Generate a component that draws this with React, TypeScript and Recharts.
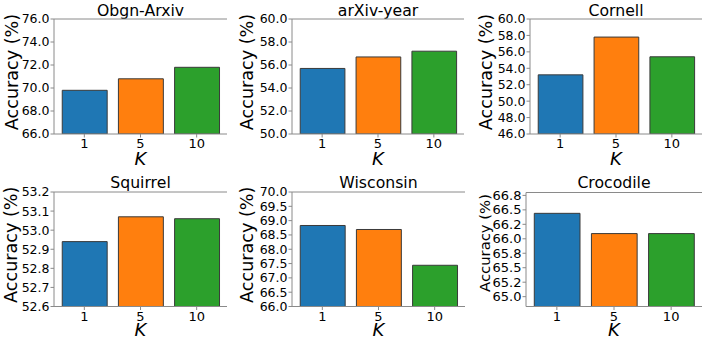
import { BarChart, Bar, Cell, XAxis, YAxis, CartesianGrid } from 'recharts'

const K_LABELS = ['1', '5', '10']
const BAR_COLORS = ['#1f77b4', '#ff7f0e', '#2ca02c']

const obgnArxivAcc = [69.8, 70.8, 71.8]
const arxivYearAcc = [55.7, 56.7, 57.2]
const cornellAcc = [53.2, 57.8, 55.4]
const squirrelAcc = [52.94, 53.07, 53.06]
const wisconsinAcc = [68.83, 68.69, 67.44]
const crocodileAcc = [66.44, 66.09, 66.09]

const obgnArxivTicks = [66, 68, 70, 72, 74, 76]
const arxivYearTicks = [50, 52, 54, 56, 58, 60]
const cornellTicks = [46, 48, 50, 52, 54, 56, 58, 60]
const squirrelTicks = [52.6, 52.7, 52.8, 52.9, 53.0, 53.1, 53.2]
const wisconsinTicks = [66, 66.5, 67, 67.5, 68, 68.5, 69, 69.5, 70]
const crocodileTicks = [65, 65.25, 65.5, 65.75, 66, 66.25, 66.5, 66.75]
const crocodileTickLabels = ['65.0', '65.2', '65.5', '65.8', '66.0', '66.2', '66.5', '66.8']

const FONT = '"DejaVu Sans", sans-serif'
const SPINE = '#8a8a8a'

type PanelProps = {
  title: string
  values: number[]
  domain: [number, number]
  ticks: number[]
  tickLabels?: string[]
  left: number
  top: number
  width: number
  height: number
  plotL: number
  plotT: number
  plotR: number
  plotB: number
  titleBase: number
  labelX: number
  labelShift: number
  labelSize: number
  yTickSize: number
  kOffset: number
}

function YLabel({ lx, ly, fs }: { lx: number; ly: number; fs: number }) {
  return (
    <text
      x={lx}
      y={ly}
      transform={`rotate(-90 ${lx} ${ly})`}
      textAnchor="middle"
      fontSize={fs}
      fontFamily={FONT}
      fill="#000"
    >
      Accuracy (%)
    </text>
  )
}

function Panel(p: PanelProps) {
  const data = K_LABELS.map((k, i) => ({ k, acc: p.values[i] }))
  const plotW = p.plotR - p.plotL
  const unit = plotW / 3.08
  const pad = (plotW - 3 * unit) / 2
  const fmt = (v: number) =>
    p.tickLabels ? p.tickLabels[p.ticks.indexOf(v)] : v.toFixed(1)
  const midY = (p.plotT + p.plotB) / 2 - p.top + p.labelShift
  const titleSize = 15.7

  return (
    <>
      <div
        style={{
          position: 'absolute',
          left: p.plotL,
          width: plotW,
          top: p.titleBase - 0.846 * titleSize,
          fontSize: titleSize,
          lineHeight: `${titleSize}px`,
          textAlign: 'center',
          color: '#000',
          whiteSpace: 'nowrap'
        }}
      >
        {p.title}
      </div>
      <div style={{ position: 'absolute', left: p.left, top: p.top }}>
        <BarChart
          width={p.width}
          height={p.height}
          data={data}
          margin={{
            top: p.plotT - p.top,
            right: p.left + p.width - p.plotR,
            bottom: 0,
            left: 0
          }}
          barCategoryGap={0}
        >
          <CartesianGrid
            vertical={false}
            horizontalValues={[p.domain[1]]}
            stroke={SPINE}
          />
          <XAxis
            dataKey="k"
            height={p.top + p.height - p.plotB}
            interval={0}
            padding={{ left: pad, right: pad }}
            tickSize={3.5}
            tickMargin={1.3}
            stroke={SPINE}
            tick={{ fill: '#000', fontSize: 13, fontFamily: FONT }}
            label={{
              value: 'K',
              position: 'insideBottom',
              offset: p.kOffset,
              fill: '#000',
              fontSize: 18,
              fontFamily: FONT,
              style: { fontStyle: 'italic' }
            }}
          />
          <YAxis
            domain={p.domain}
            ticks={p.ticks}
            allowDataOverflow
            interval={0}
            width={p.plotL - p.left}
            tickSize={3.5}
            tickMargin={1}
            stroke={SPINE}
            tickFormatter={fmt}
            tick={{ fill: '#000', fontSize: p.yTickSize, fontFamily: FONT }}
            label={<YLabel lx={p.labelX} ly={midY} fs={p.labelSize} />}
          />
          <YAxis
            yAxisId="right"
            orientation="right"
            width={0}
            domain={p.domain}
            allowDataOverflow
            tick={false}
            tickLine={false}
            stroke={SPINE}
          />
          <Bar
            dataKey="acc"
            barSize={0.8 * unit}
            stroke="#3a3a3a"
            strokeWidth={1}
            isAnimationActive={false}
          >
            {data.map((d, i) => (
              <Cell key={d.k} fill={BAR_COLORS[i]} />
            ))}
          </Bar>
        </BarChart>
      </div>
    </>
  )
}

export default function App() {
  return (
    <div
      style={{
        position: 'absolute',
        left: 0,
        top: 0,
        width: 706,
        height: 345,
        background: '#fff',
        fontFamily: FONT
      }}
    >
      <Panel
        title="Obgn-Arxiv"
        values={obgnArxivAcc}
        domain={[66, 76]}
        ticks={obgnArxivTicks}
        left={0}
        top={0}
        width={235}
        height={172.5}
        plotL={54}
        plotT={19}
        plotR={227}
        plotB={134}
        titleBase={16.5}
        labelX={17.5}
        labelShift={-4.5}
        labelSize={17.6}
        yTickSize={12.5}
        kOffset={7.5}
      />
      <Panel
        title="arXiv-year"
        values={arxivYearAcc}
        domain={[50, 60]}
        ticks={arxivYearTicks}
        left={235}
        top={0}
        width={235}
        height={172.5}
        plotL={292}
        plotT={19}
        plotR={464}
        plotB={134}
        titleBase={16.5}
        labelX={17.5}
        labelShift={-4.5}
        labelSize={17.6}
        yTickSize={12.5}
        kOffset={7.5}
      />
      <Panel
        title="Cornell"
        values={cornellAcc}
        domain={[46, 60]}
        ticks={cornellTicks}
        left={470}
        top={0}
        width={236}
        height={172.5}
        plotL={530}
        plotT={19}
        plotR={702}
        plotB={134}
        titleBase={16.5}
        labelX={21.8}
        labelShift={-4.5}
        labelSize={17.6}
        yTickSize={12.5}
        kOffset={7.5}
      />
      <Panel
        title="Squirrel"
        values={squirrelAcc}
        domain={[52.6, 53.2]}
        ticks={squirrelTicks}
        left={0}
        top={172.5}
        width={235}
        height={172.5}
        plotL={54}
        plotT={191.5}
        plotR={227}
        plotB={306}
        titleBase={188.5}
        labelX={16.5}
        labelShift={-4.5}
        labelSize={17.6}
        yTickSize={12.5}
        kOffset={9.3}
      />
      <Panel
        title="Wisconsin"
        values={wisconsinAcc}
        domain={[66, 70]}
        ticks={wisconsinTicks}
        left={235}
        top={172.5}
        width={235}
        height={172.5}
        plotL={292}
        plotT={191.5}
        plotR={465}
        plotB={306}
        titleBase={188.5}
        labelX={18}
        labelShift={-4.5}
        labelSize={17.6}
        yTickSize={12.5}
        kOffset={9.3}
      />
      <Panel
        title="Crocodile"
        values={crocodileAcc}
        domain={[64.83, 66.8]}
        ticks={crocodileTicks}
        tickLabels={crocodileTickLabels}
        left={470}
        top={172.5}
        width={236}
        height={172.5}
        plotL={526}
        plotT={192}
        plotR={702}
        plotB={306}
        titleBase={188.5}
        labelX={20}
        labelShift={-6.5}
        labelSize={14.8}
        yTickSize={13}
        kOffset={9.3}
      />
    </div>
  )
}
